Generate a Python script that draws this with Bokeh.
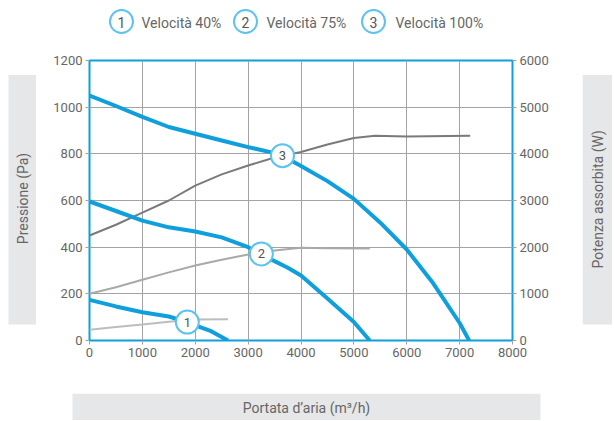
import math
from bokeh.plotting import figure
from bokeh.layouts import column, row
from bokeh.models import Range1d, LinearAxis, FixedTicker, ColumnDataSource
from bokeh.embed import file_html
from bokeh.resources import INLINE
from bokeh.core.properties import value

# ---------------- data ----------------
flow_ticks = [0, 1000, 2000, 3000, 4000, 5000, 6000, 7000, 8000]
pressure_ticks = [0, 200, 400, 600, 800, 1000, 1200]
power_ticks = [0, 1000, 2000, 3000, 4000, 5000, 6000]

series_names = ["Velocità 40%", "Velocità 75%", "Velocità 100%"]
series_ids = ["1", "2", "3"]

# pressure curves (Pa) vs flow (m3/h)
p1_flow = [0, 500, 1000, 1500, 1850, 2000, 2300, 2620]
p1_pres = [174, 146, 121, 103, 79, 65, 40, 0]
p2_flow = [0, 500, 1000, 1500, 2000, 2500, 3000, 3250, 3500, 3750, 4000, 4500, 5000, 5300]
p2_pres = [596, 555, 514, 485, 467, 442, 400, 371, 340, 312, 279, 180, 79, 0]
p3_flow = [0, 500, 1000, 1500, 2000, 2500, 3000, 3500, 3650, 4000, 4500, 5000, 5500, 6000, 6500, 7000, 7180]
p3_pres = [1050, 1005, 958, 915, 886, 857, 829, 803, 792, 748, 683, 607, 505, 390, 245, 75, 0]

# absorbed power curves (W) vs flow (m3/h)
w1_flow = [0, 500, 1000, 1500, 2000, 2620]
w1_pow = [230, 290, 343, 400, 450, 455]
w2_flow = [0, 500, 1000, 1500, 2000, 2500, 3000, 3500, 4000, 4500, 5300]
w2_pow = [1000, 1140, 1300, 1460, 1607, 1730, 1843, 1930, 1990, 1975, 1970]
w3_flow = [0, 500, 1000, 1500, 2000, 2500, 3000, 3500, 4000, 4500, 5000, 5400, 6000, 7200]
w3_pow = [2250, 2480, 2740, 3000, 3320, 3560, 3750, 3920, 4040, 4200, 4340, 4390, 4370, 4390]

# marker positions on the pressure curves
mark_flow = [1850, 3250, 3650]
mark_pres = [79, 371, 792]

x_label = "Portata d\u2019aria (m\u00b3/h)"
y_label = "Pressione (Pa)"
y2_label = "Potenza assorbita (W)"

# ---------------- style ----------------
BLUE = "#0f9fdc"
RING = "#5cc3ee"
GRID = "#a3a3a3"
TXT = "#666666"
BOX = "#e6e7e8"
FONT = "Roboto"

TOTAL_W = 612
TOP_H, MID_H, BOT_H = 44, 349, 27
LEFT_W, RIGHT_W = 36, 30
MAIN_W = TOTAL_W - LEFT_W - RIGHT_W


def deco(w, h):
    """A blank figure whose data units are pixels (y measured from the top)."""
    f = figure(width=w, height=h, output_backend="svg", toolbar_location=None,
               x_range=Range1d(0, w), y_range=Range1d(h, 0),
               x_axis_location=None, y_axis_location=None,
               min_border=0, background_fill_color="white",
               border_fill_color="white")
    f.outline_line_color = None
    f.grid.grid_line_color = None
    return f


def deco_text(f, x, y, txt, vertical=False, align="center"):
    f.text(x=[x], y=[y], text=[txt], angle=(math.pi / 2 if vertical else 0),
           text_align=align, text_baseline="middle", text_font=value(FONT),
           text_font_size="14px", text_color=TXT)


# ---------------- legend strip ----------------
top = deco(TOTAL_W, TOP_H)
leg_cx = [121, 245, 373]
leg_tx = [141, 266, 395]
top.scatter(x=leg_cx, y=[21, 21, 21], size=23, fill_color="white",
            line_color=RING, line_width=2)
top.text(x=leg_cx, y=[21.5, 21.5, 21.5], text=series_ids, text_align="center",
         text_baseline="middle", text_font=value(FONT), text_font_size="14px",
         text_color="#555555")
top.text(x=leg_tx, y=[22, 22, 22], text=series_names, text_align="left",
         text_baseline="middle", text_font=value(FONT), text_font_size="14px",
         text_color=TXT)

# ---------------- side boxes ----------------
left = deco(LEFT_W, MID_H)
left.quad(left=[8], right=[LEFT_W], top=[18], bottom=[329], fill_color=BOX,
          line_color=None)
deco_text(left, 22, 172, y_label, vertical=True)

right = deco(RIGHT_W, MID_H)
right.quad(left=[0], right=[RIGHT_W], top=[18], bottom=[329], fill_color=BOX,
           line_color=None)
deco_text(right, 15, 173, y2_label, vertical=True)

bottom = deco(TOTAL_W, BOT_H)
bottom.quad(left=[72], right=[540], top=[0], bottom=[BOT_H], fill_color=BOX,
            line_color=None)
deco_text(bottom, 306, 14, x_label)

# ---------------- main chart ----------------
p = figure(width=MAIN_W, height=MID_H, output_backend="svg", toolbar_location=None,
           x_range=Range1d(0, 8000), y_range=Range1d(0, 1200),
           min_border_left=53, min_border_right=70, min_border_top=16,
           min_border_bottom=53, background_fill_color="white",
           border_fill_color="white")
p.outline_line_color = BLUE
p.outline_line_width = 2
p.extra_y_ranges = {"power": Range1d(0, 6000)}


def style_axis(ax, ticks):
    ax.ticker = FixedTicker(ticks=ticks)
    ax.axis_line_color = None
    ax.major_tick_line_color = GRID
    ax.major_tick_out = 4
    ax.major_tick_in = 0
    ax.minor_tick_line_color = None
    ax.major_label_text_color = TXT
    ax.major_label_text_font = FONT
    ax.major_label_text_font_size = "13px"
    ax.major_label_standoff = 3


style_axis(p.xaxis[0], flow_ticks)
style_axis(p.yaxis[0], pressure_ticks)
ax2 = LinearAxis(y_range_name="power")
style_axis(ax2, power_ticks)
p.add_layout(ax2, "right")

p.xgrid.ticker = FixedTicker(ticks=flow_ticks)
p.ygrid.ticker = FixedTicker(ticks=pressure_ticks)
for g in (p.xgrid[0], p.ygrid[0]):
    g.grid_line_color = GRID
    g.grid_line_width = 1

# power curves (right axis)
p.line(w3_flow, w3_pow, y_range_name="power", line_color="#7a7a7a", line_width=2)
p.line(w2_flow, w2_pow, y_range_name="power", line_color="#a9a9a9", line_width=2)
p.line(w1_flow, w1_pow, y_range_name="power", line_color="#bdbdbd", line_width=2)

# pressure curves
for fx, fy in ((p1_flow, p1_pres), (p2_flow, p2_pres), (p3_flow, p3_pres)):
    p.line(fx, fy, line_color=BLUE, line_width=4, line_join="round")

msrc = ColumnDataSource(dict(x=mark_flow, y=mark_pres, t=series_ids))
p.scatter("x", "y", source=msrc, size=23, fill_color="white", line_color=RING,
          line_width=2)
p.text("x", "y", text="t", source=msrc, text_align="center", text_baseline="middle",
       text_font=value(FONT), text_font_size="13px", text_color="#555555")

layout = column(top, row(left, p, right, spacing=0), bottom, spacing=0)
open("out.html", "w").write(file_html(layout, INLINE))
